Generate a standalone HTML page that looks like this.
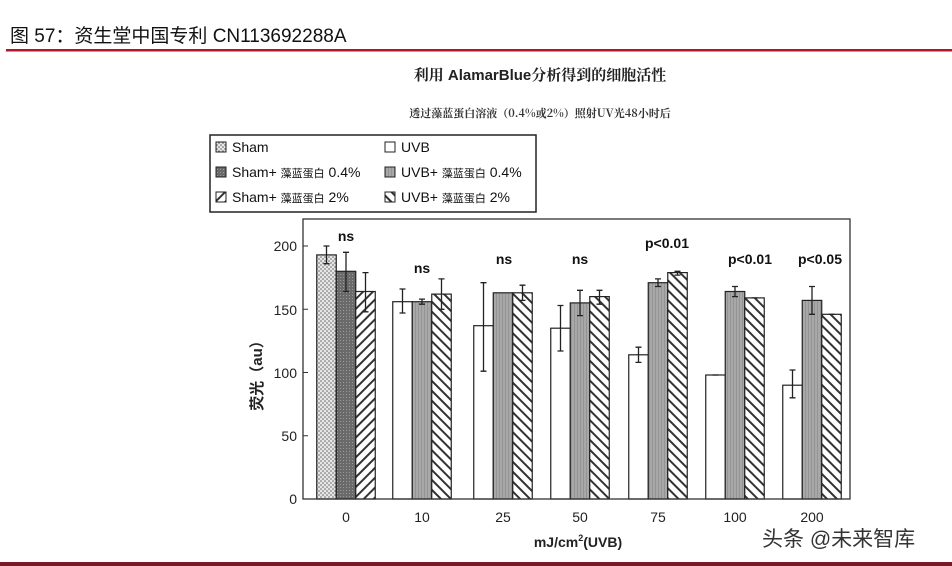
<!DOCTYPE html>
<html><head><meta charset="utf-8"><style>
body{margin:0;background:#fff;}
svg{display:block;font-family:"Liberation Sans","Noto Sans CJK SC",sans-serif;}
</style></head><body>
<svg width="952" height="566" viewBox="0 0 952 566" xmlns="http://www.w3.org/2000/svg">
<defs>
<pattern id="dots" width="4" height="4" patternUnits="userSpaceOnUse"><rect width="4" height="4" fill="#e6e6e6"/><circle cx="1" cy="1" r="0.8" fill="#666"/><circle cx="3" cy="3" r="0.8" fill="#666"/></pattern>
<pattern id="dark" width="3" height="3" patternUnits="userSpaceOnUse"><rect width="3" height="3" fill="#6a6a6a"/><rect x="1" y="1" width="1" height="1" fill="#999"/></pattern>
<pattern id="mid" width="3" height="3" patternUnits="userSpaceOnUse"><rect width="3" height="3" fill="#a8a8a8"/><rect x="1" y="0" width="1" height="3" fill="#949494"/></pattern>
<pattern id="fwd" width="7" height="7" patternUnits="userSpaceOnUse" patternTransform="rotate(45)"><rect width="7" height="7" fill="#fff"/><rect x="0" width="2" height="7" fill="#333"/></pattern>
<pattern id="bwd" width="7" height="7" patternUnits="userSpaceOnUse" patternTransform="rotate(-45)"><rect width="7" height="7" fill="#fff"/><rect x="0" width="2" height="7" fill="#333"/></pattern>
</defs>
<text x="10" y="42" font-size="19" fill="#111">图 57：资生堂中国专利 CN113692288A</text>
<rect x="6" y="49" width="946" height="2.5" fill="#b0182a"/>
<rect x="0" y="562" width="952" height="4" fill="#7a1a28"/>
<text x="540" y="80" font-size="15" font-weight="bold" text-anchor="middle" fill="#222" font-family="'Liberation Sans','Noto Serif CJK SC',serif">利用 AlamarBlue分析得到的细胞活性</text>
<text x="540" y="117" font-size="11" font-weight="bold" text-anchor="middle" fill="#333" font-family="'Noto Serif CJK SC',serif">透过藻蓝蛋白溶液（0.4%或2%）照射UV光48小时后</text>
<rect x="210" y="135" width="326" height="77" fill="#fff" stroke="#222" stroke-width="1.5"/>
<g font-size="14" fill="#111">
<rect x="216" y="142" width="10" height="10" fill="url(#dots)" stroke="#222"/><text x="232" y="152">Sham</text>
<rect x="216" y="167" width="10" height="10" fill="url(#dark)" stroke="#222"/><text x="232" y="177">Sham+ <tspan font-size="11">藻蓝蛋白</tspan> 0.4%</text>
<rect x="216" y="192" width="10" height="10" fill="url(#fwd)" stroke="#222"/><text x="232" y="202">Sham+ <tspan font-size="11">藻蓝蛋白</tspan> 2%</text>
<rect x="385" y="142" width="10" height="10" fill="#fff" stroke="#222"/><text x="401" y="152">UVB</text>
<rect x="385" y="167" width="10" height="10" fill="url(#mid)" stroke="#222"/><text x="401" y="177">UVB+ <tspan font-size="11">藻蓝蛋白</tspan> 0.4%</text>
<rect x="385" y="192" width="10" height="10" fill="url(#bwd)" stroke="#222"/><text x="401" y="202">UVB+ <tspan font-size="11">藻蓝蛋白</tspan> 2%</text>
</g>
<g font-size="14" fill="#222" text-anchor="end">
<text x="297" y="251">200</text><text x="297" y="315">150</text><text x="297" y="378">100</text><text x="297" y="441">50</text><text x="297" y="504">0</text>
</g>
<g stroke="#333"><line x1="303" y1="246" x2="308" y2="246"/><line x1="303" y1="309.25" x2="308" y2="309.25"/><line x1="303" y1="372.5" x2="308" y2="372.5"/><line x1="303" y1="435.75" x2="308" y2="435.75"/></g>
<text transform="translate(262,372) rotate(-90)" font-size="15" font-weight="bold" text-anchor="middle" fill="#222">荧光（au）</text>
<g font-size="14" fill="#222" text-anchor="middle">
<text x="346" y="522">0</text><text x="422" y="522">10</text><text x="503" y="522">25</text><text x="580" y="522">50</text><text x="658" y="522">75</text><text x="735" y="522">100</text><text x="812" y="522">200</text>
<text x="578" y="547" font-weight="bold">mJ/cm<tspan font-size="9" dy="-6">2</tspan><tspan dy="6">(UVB)</tspan></text>
</g>
<g stroke="#222" stroke-width="1.2">
<rect x="316.75" y="254.9" width="19.5" height="244.1" fill="url(#dots)"/>
<rect x="336.25" y="271.3" width="19.5" height="227.7" fill="url(#dark)"/>
<rect x="355.75" y="291.5" width="19.5" height="207.5" fill="url(#fwd)"/>
<rect x="392.75" y="301.7" width="19.5" height="197.3" fill="#fff"/>
<rect x="412.25" y="301.7" width="19.5" height="197.3" fill="url(#mid)"/>
<rect x="431.75" y="294.1" width="19.5" height="204.9" fill="url(#bwd)"/>
<rect x="473.75" y="325.7" width="19.5" height="173.3" fill="#fff"/>
<rect x="493.25" y="292.8" width="19.5" height="206.2" fill="url(#mid)"/>
<rect x="512.75" y="292.8" width="19.5" height="206.2" fill="url(#bwd)"/>
<rect x="550.75" y="328.2" width="19.5" height="170.8" fill="#fff"/>
<rect x="570.25" y="302.9" width="19.5" height="196.1" fill="url(#mid)"/>
<rect x="589.75" y="296.6" width="19.5" height="202.4" fill="url(#bwd)"/>
<rect x="628.75" y="354.8" width="19.5" height="144.2" fill="#fff"/>
<rect x="648.25" y="282.7" width="19.5" height="216.3" fill="url(#mid)"/>
<rect x="667.75" y="272.6" width="19.5" height="226.4" fill="url(#bwd)"/>
<rect x="705.75" y="375.0" width="19.5" height="124.0" fill="#fff"/>
<rect x="725.25" y="291.5" width="19.5" height="207.5" fill="url(#mid)"/>
<rect x="744.75" y="297.9" width="19.5" height="201.1" fill="url(#bwd)"/>
<rect x="782.75" y="385.2" width="19.5" height="113.8" fill="#fff"/>
<rect x="802.25" y="300.4" width="19.5" height="198.6" fill="url(#mid)"/>
<rect x="821.75" y="314.3" width="19.5" height="184.7" fill="url(#bwd)"/>
</g>
<g stroke="#222" stroke-width="1.3" fill="none">
<path d="M326.5 263.7V246M323.5 263.7h6M323.5 246h6"/>
<path d="M346 291.5V252.3M343 291.5h6M343 252.3h6"/>
<path d="M365.5 311.8V272.6M362.5 311.8h6M362.5 272.6h6"/>
<path d="M402.5 313V289M399.5 313h6M399.5 289h6"/>
<path d="M422 304.2V299.1M419 304.2h6M419 299.1h6"/>
<path d="M441.5 309.3V278.9M438.5 309.3h6M438.5 278.9h6"/>
<path d="M483.5 371.2V282.7M480.5 371.2h6M480.5 282.7h6"/>
<path d="M522.5 300.4V285.2M519.5 300.4h6M519.5 285.2h6"/>
<path d="M560.5 351V305.5M557.5 351h6M557.5 305.5h6"/>
<path d="M580 315.6V290.3M577 315.6h6M577 290.3h6"/>
<path d="M599.5 304.2V290.3M596.5 304.2h6M596.5 290.3h6"/>
<path d="M638.5 362.4V347.2M635.5 362.4h6M635.5 347.2h6"/>
<path d="M658 286.5V278.9M655 286.5h6M655 278.9h6"/>
<path d="M677.5 275.1V271.3M674.5 275.1h6M674.5 271.3h6"/>
<path d="M712.5 375h6"/>
<path d="M735 296.6V286.5M732 296.6h6M732 286.5h6"/>
<path d="M751.5 297.9h6"/>
<path d="M792.5 397.8V370M789.5 397.8h6M789.5 370h6"/>
<path d="M812 314.3V286.5M809 314.3h6M809 286.5h6"/>
<path d="M828.5 314.3h6"/>
</g>
<rect x="303" y="219" width="547" height="280" fill="none" stroke="#333" stroke-width="1.3"/>
<g font-size="14" font-weight="bold" fill="#111" text-anchor="middle">
<text x="346" y="241">ns</text><text x="422" y="273">ns</text><text x="504" y="264">ns</text><text x="580" y="264">ns</text>
<text x="667" y="248">p&lt;0.01</text><text x="750" y="264">p&lt;0.01</text><text x="820" y="264">p&lt;0.05</text>
</g>
<text x="762" y="546" font-size="21" fill="#333">头条 @未来智库</text>
</svg>
</body></html>
